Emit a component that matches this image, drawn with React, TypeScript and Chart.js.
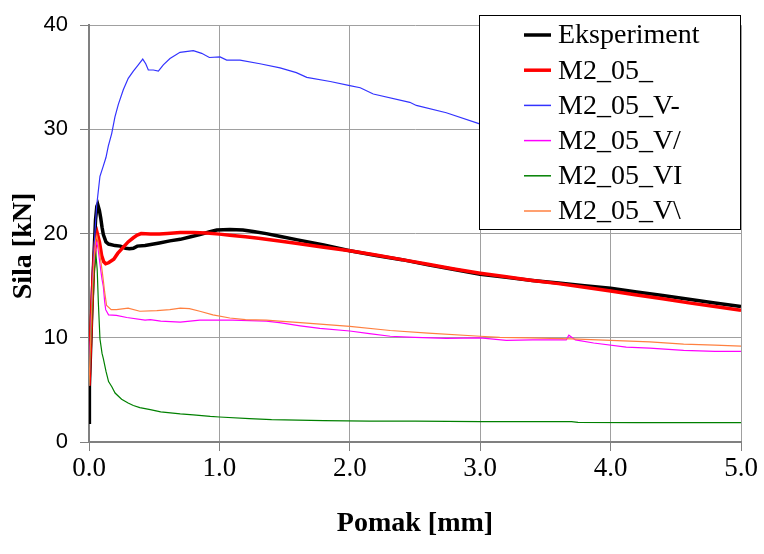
import React, { useEffect, useRef } from 'react';
import { Chart, registerables } from 'chart.js';

Chart.register(...registerables);

// ---- Data ----
const seriesNames = ['Eksperiment', 'M2_05_', 'M2_05_V-', 'M2_05_V/', 'M2_05_VI', 'M2_05_V\\'];

const expX = [0, 0.003, 0.01, 0.02, 0.03, 0.04, 0.05, 0.06, 0.067, 0.08, 0.09, 0.1, 0.11, 0.13, 0.15, 0.2, 0.24, 0.28, 0.31, 0.34, 0.37, 0.43, 0.54, 0.62, 0.7, 0.78, 0.85, 0.92, 0.98, 1.08, 1.18, 1.26, 1.36, 1.46, 1.6, 1.8, 2.0, 2.2, 2.4, 2.6, 2.8, 3.0, 3.2, 3.4, 3.6, 3.8, 4.0, 4.2, 4.4, 4.6, 4.8, 5.0];
const expY = [1.9, 5.3, 8, 12, 15.5, 18.5, 21.3, 22.6, 22.8, 22.2, 21.5, 20.6, 19.9, 19.2, 19.0, 18.85, 18.8, 18.6, 18.55, 18.6, 18.8, 18.85, 19.1, 19.3, 19.45, 19.7, 19.9, 20.15, 20.35, 20.4, 20.35, 20.2, 20.0, 19.75, 19.4, 18.9, 18.35, 17.9, 17.5, 17.0, 16.55, 16.1, 15.8, 15.5, 15.25, 15.0, 14.75, 14.4, 14.05, 13.7, 13.35, 13.0];

const redX = [0, 0.01, 0.02, 0.03, 0.04, 0.05, 0.064, 0.08, 0.097, 0.113, 0.128, 0.15, 0.19, 0.22, 0.26, 0.3, 0.34, 0.37, 0.4, 0.47, 0.54, 0.6, 0.7, 0.8, 0.9, 1.0, 1.08, 1.2, 1.3, 1.46, 1.6, 1.8, 2.0, 2.2, 2.4, 2.6, 2.8, 3.0, 3.2, 3.4, 3.6, 3.8, 4.0, 4.2, 4.4, 4.6, 4.8, 5.0];
const redY = [5.4, 9, 12.5, 15.5, 17.8, 19.2, 20.0, 19.2, 17.9, 17.3, 17.1, 17.2, 17.55, 18.1, 18.65, 19.2, 19.6, 19.85, 20.0, 19.95, 19.95, 20.0, 20.1, 20.1, 20.05, 19.95, 19.85, 19.7, 19.55, 19.3, 19.05, 18.7, 18.35, 17.95, 17.5, 17.05, 16.6, 16.2, 15.85, 15.5, 15.2, 14.85, 14.5, 14.1, 13.75, 13.35, 13.0, 12.65];

const blueX = [0, 0.01, 0.02, 0.03, 0.04, 0.05, 0.059, 0.084, 0.11, 0.13, 0.148, 0.174, 0.199, 0.225, 0.263, 0.301, 0.34, 0.378, 0.412, 0.435, 0.455, 0.493, 0.532, 0.57, 0.621, 0.698, 0.8, 0.864, 0.923, 1.005, 1.056, 1.158, 1.311, 1.465, 1.59, 1.67, 1.85, 2.0, 2.08, 2.18, 2.46, 2.51, 2.74, 2.99, 3.25, 3.5, 3.75, 4.0, 4.25, 4.5, 4.75, 5.0];
const blueY = [5.4, 9.5, 13, 16, 18.8, 21, 22.7, 25.5, 26.5, 27.3, 28.4, 29.6, 31.2, 32.4, 33.8, 34.9, 35.6, 36.2, 36.75, 36.3, 35.7, 35.7, 35.6, 36.2, 36.8, 37.4, 37.55, 37.3, 36.9, 36.95, 36.65, 36.65, 36.3, 35.9, 35.45, 35.0, 34.6, 34.2, 34.0, 33.4, 32.6, 32.3, 31.6, 30.55, 29.6, 28.7, 27.9, 27.0, 26.1, 25.0, 24.1, 23.1];

const magX = [0, 0.01, 0.02, 0.03, 0.04, 0.05, 0.06, 0.07, 0.08, 0.09, 0.1, 0.11, 0.12, 0.128, 0.15, 0.21, 0.29, 0.43, 0.47, 0.55, 0.7, 0.85, 1.1, 1.36, 1.46, 1.62, 1.77, 2.0, 2.15, 2.31, 2.5, 2.74, 3.0, 3.2, 3.4, 3.66, 3.68, 3.73, 3.87, 4.12, 4.3, 4.56, 4.8, 5.0];
const magY = [5.4, 9, 12.5, 15.5, 17.5, 18.8, 19.2, 18.5, 17.5, 16.5, 15.6, 14.9, 13.5, 12.7, 12.2, 12.15, 11.95, 11.7, 11.75, 11.6, 11.5, 11.7, 11.7, 11.6, 11.45, 11.15, 10.9, 10.65, 10.4, 10.15, 10.05, 9.95, 10.0, 9.75, 9.8, 9.8, 10.25, 9.8, 9.5, 9.1, 9.0, 8.8, 8.7, 8.7];

const grnX = [0, 0.01, 0.02, 0.03, 0.04, 0.054, 0.063, 0.072, 0.084, 0.1, 0.11, 0.13, 0.15, 0.175, 0.2, 0.25, 0.3, 0.34, 0.39, 0.47, 0.55, 0.7, 0.8, 0.93, 1.0, 1.23, 1.4, 1.6, 1.8, 2.15, 2.5, 3.0, 3.7, 3.75, 4.2, 4.6, 5.0];
const grnY = [5.4, 8.5, 11.5, 14.2, 16.5, 17.9, 16.5, 13.3, 9.9, 8.5, 8.0, 6.8, 5.8, 5.3, 4.7, 4.1, 3.75, 3.5, 3.3, 3.1, 2.9, 2.7, 2.6, 2.45, 2.4, 2.25, 2.15, 2.1, 2.05, 2.0, 2.0, 1.95, 1.95, 1.88, 1.85, 1.85, 1.85];

const orgX = [0, 0.01, 0.02, 0.03, 0.04, 0.05, 0.06, 0.07, 0.08, 0.09, 0.1, 0.11, 0.12, 0.135, 0.17, 0.21, 0.3, 0.39, 0.52, 0.62, 0.7, 0.77, 0.85, 0.95, 1.08, 1.2, 1.36, 1.46, 1.62, 2.0, 2.31, 2.6, 3.0, 3.15, 3.38, 3.7, 4.0, 4.3, 4.56, 4.8, 5.0];
const orgY = [5.4, 9, 12.5, 15.5, 17.8, 19.3, 19.8, 19.2, 18.3, 17.4, 16.5, 15.5, 14.4, 13.1, 12.7, 12.7, 12.85, 12.55, 12.6, 12.7, 12.85, 12.8, 12.55, 12.2, 11.9, 11.75, 11.7, 11.6, 11.45, 11.1, 10.7, 10.45, 10.15, 10.05, 10.0, 9.9, 9.75, 9.6, 9.4, 9.3, 9.2];

const xTickLabels = ['0.0', '1.0', '2.0', '3.0', '4.0', '5.0'];
const yTickLabels = ['0', '10', '20', '30', '40'];

const xTitle = 'Pomak [mm]';
const yTitle = 'Sila [kN]';

const pts = (xs: number[], ys: number[]) => xs.map((x, i) => ({ x, y: ys[i] }));

const SERIF = '"Liberation Serif", "Times New Roman", serif';
const SANS = '"Liberation Sans", Arial, sans-serif';

const boxLegend = {
  id: 'boxLegend',
  afterDraw(chart: any) {
    const ctx = chart.ctx as CanvasRenderingContext2D;
    ctx.save();
    // legend box
    ctx.fillStyle = '#ffffff';
    ctx.fillRect(479.5, 15.5, 261, 214);
    ctx.strokeStyle = '#000000';
    ctx.lineWidth = 1;
    ctx.strokeRect(479.5, 15.5, 261, 214);
    ctx.font = `28px ${SERIF}`;
    ctx.textAlign = 'left';
    ctx.textBaseline = 'middle';
    chart.data.datasets.forEach((ds: any, i: number) => {
      const y = 35 + i * 35.2;
      ctx.strokeStyle = ds.borderColor;
      ctx.lineWidth = ds.legendWidth;
      ctx.beginPath();
      ctx.moveTo(524, y);
      ctx.lineTo(551, y);
      ctx.stroke();
      ctx.fillStyle = '#000000';
      ctx.fillText(ds.label, 558, y + 1);
    });
    // y axis title
    ctx.translate(23.5, 246);
    ctx.rotate(-Math.PI / 2);
    ctx.font = `bold 28px ${SERIF}`;
    ctx.textAlign = 'center';
    ctx.textBaseline = 'middle';
    ctx.fillStyle = '#000000';
    ctx.fillText(yTitle, 0, 0);
    ctx.restore();
  },
};

export default function App() {
  const ref = useRef<HTMLCanvasElement | null>(null);
  useEffect(() => {
    if (!ref.current) return;
    const colors = ['#000000', '#ff0000', '#3333ff', '#ff00ff', '#008000', '#ff8040'];
    const widths = [3.5, 3.5, 1.2, 1.2, 1.2, 1.2];
    const legendWidths = [3.5, 3.5, 1.5, 1.5, 1.5, 1.5];
    const datas = [pts(expX, expY), pts(redX, redY), pts(blueX, blueY), pts(magX, magY), pts(grnX, grnY), pts(orgX, orgY)];
    const chart = new Chart(ref.current, {
      type: 'line',
      data: {
        datasets: seriesNames.map((name, i) => ({
          label: name,
          data: datas[i],
          borderColor: colors[i],
          backgroundColor: colors[i],
          borderWidth: widths[i],
          legendWidth: legendWidths[i],
          pointRadius: 0,
          pointHoverRadius: 0,
          tension: 0,
          fill: false,
          order: seriesNames.length - i,
        })) as any,
      },
      options: {
        animation: false,
        responsive: false,
        maintainAspectRatio: false,
        layout: { padding: { left: 0, right: 23, top: 16, bottom: 0 } },
        plugins: {
          legend: { display: false },
          tooltip: { enabled: false },
        },
        scales: {
          x: {
            type: 'linear',
            min: 0,
            max: 5,
            afterFit: (s: any) => { s.height = 112; },
            ticks: {
              stepSize: 1,
              padding: 4,
              color: '#000000',
              font: { family: SERIF, size: 27, lineHeight: 1 },
              callback: (_v: any, i: number) => xTickLabels[i],
              maxRotation: 0,
            },
            grid: { color: '#a0a0a0', lineWidth: 1, tickLength: 9, tickColor: '#808080', drawTicks: true },
            border: { color: '#808080', width: 2 },
            title: {
              display: true,
              text: xTitle,
              color: '#000000',
              font: { family: SERIF, size: 28, weight: 'bold', lineHeight: 1.2 },
              padding: { top: 0, bottom: 13 },
            },
          },
          y: {
            type: 'linear',
            min: 0,
            max: 40,
            afterFit: (s: any) => { s.width = 89; },
            ticks: {
              stepSize: 10,
              padding: 12,
              color: '#000000',
              font: { family: SANS, size: 22 },
              callback: (_v: any, i: number) => yTickLabels[i],
            },
            grid: { color: '#a0a0a0', lineWidth: 1, tickLength: 9, tickColor: '#808080', drawTicks: true },
            border: { color: '#808080', width: 2 },
          },
        },
      } as any,
      plugins: [boxLegend],
    });
    return () => chart.destroy();
  }, []);
  return (
    <div style={{ position: 'absolute', left: 0, top: 0, width: 764, height: 554, background: '#ffffff' }}>
      <canvas ref={ref} width={764} height={554} style={{ display: 'block' }} />
    </div>
  );
}
